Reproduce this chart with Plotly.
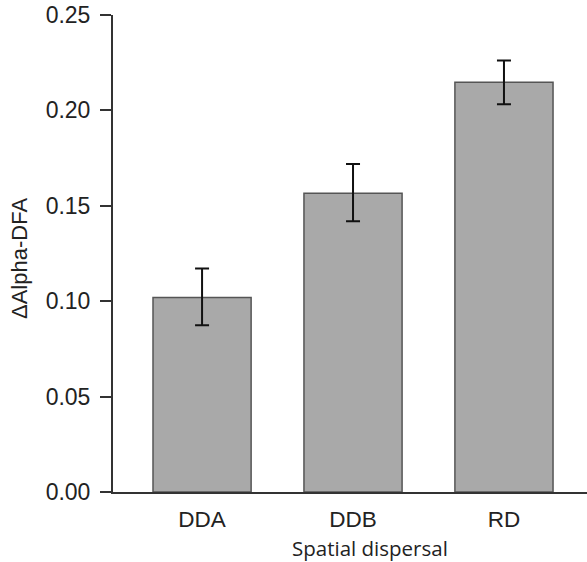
import plotly.graph_objects as go

categories = ["DDA", "DDB", "RD"]
values = [0.102, 0.1566, 0.2147]
err_upper = [0.1172, 0.1719, 0.2261]
err_lower = [0.0874, 0.1419, 0.2032]

plus = [u - v for u, v in zip(err_upper, values)]
minus = [v - l for v, l in zip(values, err_lower)]

fig = go.Figure()
fig.add_trace(go.Bar(
    x=[0, 1, 2], y=values, width=0.65,
    marker=dict(color="#a9a9a9", line=dict(color="#555555", width=1.5)),
    error_y=dict(type="data", symmetric=False, array=plus, arrayminus=minus,
                 color="#111111", thickness=2, width=7),
))

fig.update_layout(
    width=587, height=562,
    margin=dict(l=113, r=0, t=15, b=70),
    plot_bgcolor="white", paper_bgcolor="white",
    showlegend=False,
    font=dict(family="Liberation Sans, Arial", color="#222222"),
    xaxis=dict(range=[-0.59, 2.55], tickvals=[0, 1, 2], ticktext=categories,
               showline=True, linecolor="#333333", linewidth=2, ticks="",
               showgrid=False, zeroline=False, tickfont=dict(size=22.5),
               ticklabelstandoff=6, automargin=False, fixedrange=True),
    yaxis=dict(range=[0, 0.25], tickvals=[0, 0.05, 0.10, 0.15, 0.20, 0.25],
               ticktext=["0.00", "0.05", "0.10", "0.15", "0.20", "0.25"],
               showline=True, linecolor="#333333", linewidth=2,
               ticks="outside", ticklen=11, tickwidth=2, tickcolor="#333333",
               showgrid=False, zeroline=False, tickfont=dict(size=23),
               ticklabelstandoff=5, automargin=False, fixedrange=True),
)

plot_h = 562 - 15 - 70
fig.add_annotation(text="ΔAlpha-DFA", textangle=-90, xref="paper", yref="paper",
                   x=(19 - 113) / 474, y=(492 - 259) / plot_h, showarrow=False,
                   xanchor="center", yanchor="middle",
                   font=dict(size=22, family="Liberation Sans, Arial", color="#222222"))
fig.add_annotation(text="Spatial dispersal", xref="paper", yref="paper",
                   x=(370 - 113) / 474, y=(492 - 548) / plot_h, showarrow=False,
                   xanchor="center", yanchor="middle",
                   font=dict(size=20.5, family="Open Sans", color="#222222"))

fig.write_html("out.html", config={"displayModeBar": False},
               post_script="document.body.style.margin='0';document.body.style.padding='0';document.body.style.overflow='hidden';")
